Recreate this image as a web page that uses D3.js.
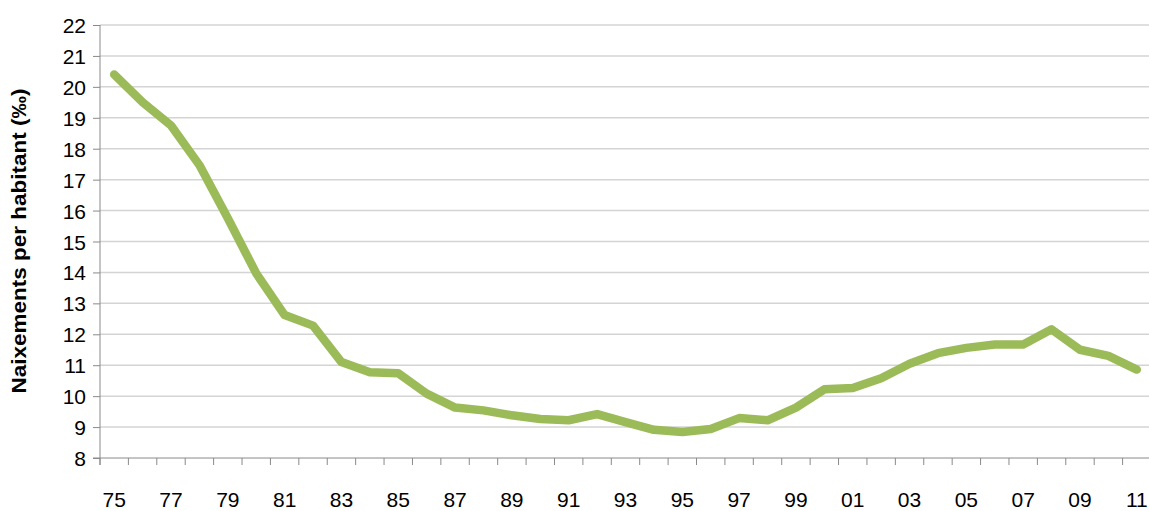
<!DOCTYPE html>
<html>
<head>
<meta charset="utf-8">
<script src="https://cdn.jsdelivr.net/npm/d3@7"></script>
<style>
  body { margin: 0; background: #fff; }
  svg { display: block; }
  text { font-family: "Liberation Sans", Arial, sans-serif; fill: #000; }
</style>
</head>
<body>
<svg id="canvas" width="1149" height="511"></svg>
<script>
// years 1975..2011
var years = [1975,1976,1977,1978,1979,1980,1981,1982,1983,1984,1985,1986,1987,1988,1989,1990,1991,1992,1993,
             1994,1995,1996,1997,1998,1999,2000,2001,2002,2003,2004,2005,2006,2007,2008,2009,2010,2011];
var rates = [20.4,19.5,18.75,17.47,15.75,13.97,12.62,12.28,11.1,10.77,10.74,10.08,9.63,9.54,9.38,9.26,9.22,9.42,9.16,
             8.91,8.84,8.94,9.29,9.22,9.63,10.22,10.26,10.58,11.05,11.39,11.56,11.67,11.67,12.16,11.5,11.3,10.86];
var yTicks = [8,9,10,11,12,13,14,15,16,17,18,19,20,21,22];
var yTitle = "Naixements per habitant (‰)";

var canvas = d3.select("#canvas")

// plot box (note: "top" is reserved on window)
var pLeft = 100, pRight = 1151, pTop = 25, pBottom = 458;

var x = d3.scaleBand().domain(years).range([pLeft, pRight])
var y = d3.scaleLinear().domain([8, 22]).range([pBottom, pTop])

// gridlines
canvas.append("g")
    .selectAll("line")
    .data(yTicks.slice(1))
    .enter().append("line")
    .attr("x1", pLeft).attr("x2", 1149)
    .attr("y1", function(d){ return y(d) }).attr("y2", function(d){ return y(d) })
    .style("stroke", "#d4d4d4").style("stroke-width", 1.5)

// y axis
var yAxis = canvas.append("g")
    .attr("transform", "translate(" + pLeft + ",0)")
    .call(d3.axisLeft(y).tickValues(yTicks).tickSize(7).tickPadding(7).tickFormat(d3.format("d")))
yAxis.select(".domain").attr("d", "M0," + pTop + "V" + (pBottom + 7)).style("stroke", "#8a8a8a")
yAxis.selectAll(".tick line").style("stroke", "#8a8a8a")
yAxis.selectAll(".tick text").style("font-size", "21px").style("font-family", "Liberation Sans, Arial, sans-serif").attr("dy", "0.36em")

// x axis, ticks on category boundaries
var xAxis = canvas.append("g")
    .attr("transform", "translate(0," + pBottom + ")")
xAxis.append("line")
    .attr("x1", pLeft - 7).attr("x2", 1149).attr("y1", 0).attr("y2", 0)
    .style("stroke", "#8a8a8a")
xAxis.selectAll(".tk")
    .data(years)
    .enter().append("line")
    .attr("class", "tk")
    .attr("x1", function(d){ return x(d) }).attr("x2", function(d){ return x(d) })
    .attr("y1", 0).attr("y2", 7)
    .style("stroke", "#8a8a8a")
xAxis.selectAll("text")
    .data(years.filter(function(d, i){ return i % 2 == 0 }))
    .enter().append("text")
    .attr("x", function(d){ return x(d) + x.bandwidth() / 2 })
    .attr("y", 49)
    .attr("text-anchor", "middle")
    .style("font-size", "21px")
    .text(function(d){ return String(d).slice(2) })

// y title
canvas.append("text")
    .attr("transform", "translate(26,241) rotate(-90)")
    .attr("text-anchor", "middle")
    .attr("textLength", 305)
    .attr("lengthAdjust", "spacingAndGlyphs")
    .style("font-size", "20px")
    .style("font-weight", "bold")
    .text(yTitle)

// the line
var line = d3.line()
    .x(function(d, i){ return x(years[i]) + x.bandwidth() / 2 })
    .y(function(d){ return y(d) })

canvas.append("path")
    .attr("d", line(rates))
    .style("fill", "none")
    .style("stroke", "#9bbb59")
    .style("stroke-width", 8.5)
    .style("stroke-linejoin", "round")
    .style("stroke-linecap", "round")
</script>
</body>
</html>
